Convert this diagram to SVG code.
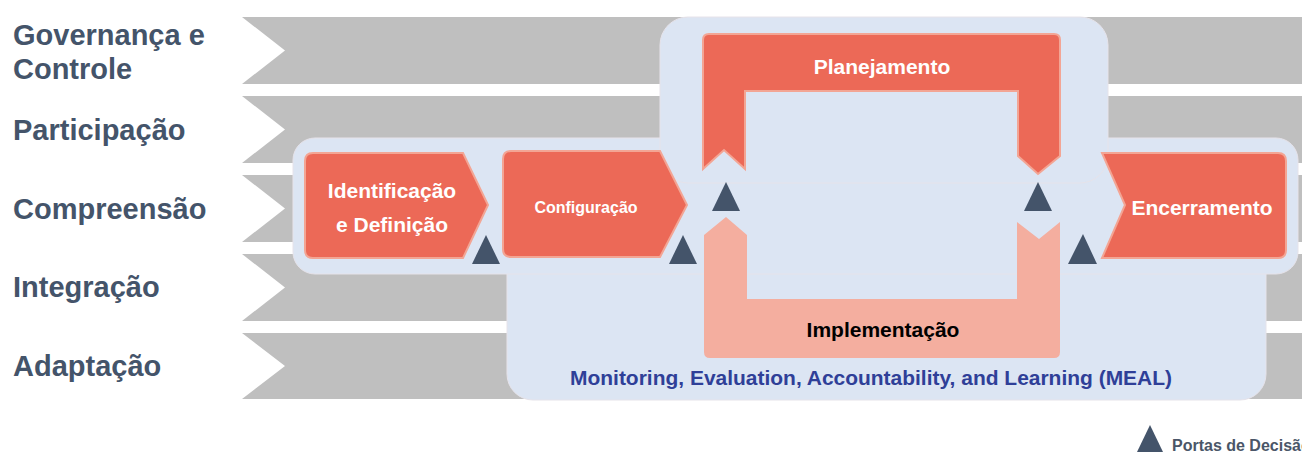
<svg xmlns="http://www.w3.org/2000/svg" width="1302" height="454" viewBox="0 0 1302 454">
<style>
.band{fill:#BFBFBF}
.lbl{font-family:"Liberation Sans",Arial,sans-serif;font-weight:bold;font-size:29px;fill:#44546A}
.panel{fill:#DCE5F3;stroke:#E6E3EA;stroke-width:1}
.phase{fill:#EC6957;stroke:#F3A594;stroke-width:2}
.impl{fill:#F4AE9F}
.wt{font-family:"Liberation Sans",Arial,sans-serif;font-weight:bold;font-size:21px;fill:#FFFFFF;text-anchor:middle}
.gate{fill:#44546A}
</style>
<rect width="1302" height="454" fill="#FFFFFF"/>
<g id="bands">
<path class="band" d="M242,17 H1302 V84 H242 L285,50.5 Z"/>
<path class="band" d="M242,96 H1302 V163 H242 L285,129.5 Z"/>
<path class="band" d="M242,175 H1302 V242 H242 L285,208.5 Z"/>
<path class="band" d="M242,254 H1302 V321 H242 L285,287.5 Z"/>
<path class="band" d="M242,333 H1302 V399 H242 L285,366 Z"/>
</g>
<g id="labels">
<text class="lbl" x="13" y="45">Governança e</text>
<text class="lbl" x="13" y="79">Controle</text>
<text class="lbl" x="13" y="140">Participação</text>
<text class="lbl" x="13" y="219">Compreensão</text>
<text class="lbl" x="13" y="297">Integração</text>
<text class="lbl" x="13" y="376">Adaptação</text>
</g>
<g id="meal-panel">
<rect class="panel" x="507" y="200" width="759" height="200" rx="26"/>
<text x="570" y="385" font-family="Liberation Sans,Arial,sans-serif" font-weight="bold" font-size="20" fill="#2F3F98" textLength="602" lengthAdjust="spacingAndGlyphs">Monitoring, Evaluation, Accountability, and Learning (MEAL)</text>
</g>
<g id="main-panel">
<rect class="panel" x="293" y="138" width="1005" height="136" rx="22"/>
</g>
<g id="plan-panel">
<rect class="panel" x="660" y="17" width="448" height="166" rx="28"/>
</g>
<g id="planejamento">
<path class="phase" d="M709,34 H1054 Q1060,34 1060,40 V156 L1038,174 L1018,156 V91 H745 V169 L724,150 L703,169 V40 Q703,34 709,34 Z"/>
<text class="wt" x="882" y="74">Planejamento</text>
</g>
<g id="implementacao">
<path class="impl" d="M704,235 L726,217 L747,235 V299 H1017 V222 L1039,239 L1060,222 V352 Q1060,358 1054,358 H710 Q704,358 704,352 Z"/>
<text class="wt" x="883" y="337" fill="#000000" style="fill:#000000">Implementação</text>
</g>
<g id="identificacao">
<path class="phase" d="M313,153 H463 L488,205 L463,258 H313 Q305,258 305,250 V161 Q305,153 313,153 Z"/>
<text class="wt" x="392" y="198">Identificação</text>
<text class="wt" x="392" y="232">e Definição</text>
</g>
<g id="configuracao">
<path class="phase" d="M511,151 H660 L687,205 L660,257 H511 Q503,257 503,249 V159 Q503,151 511,151 Z"/>
<text class="wt" x="586" y="213" style="font-size:16px">Configuração</text>
</g>
<g id="encerramento">
<path class="phase" d="M1102,153 H1278 Q1286,153 1286,161 V250 Q1286,258 1278,258 H1102 L1125,205 Z"/>
<text class="wt" x="1202" y="215">Encerramento</text>
</g>
<g id="gates">
<polygon class="gate" points="486,235 472,264 500,264"/>
<polygon class="gate" points="683,235 669,264 697,264"/>
<polygon class="gate" points="726,182 712,211 740,211"/>
<polygon class="gate" points="1038,182 1024,211 1052,211"/>
<polygon class="gate" points="1083,234 1068,264 1097,264"/>
</g>
<g id="legend">
<polygon class="gate" points="1150,425 1137,452 1163,452"/>
<text x="1172" y="451" font-family="Liberation Sans,Arial,sans-serif" font-weight="bold" font-size="16" fill="#4A5668">Portas de Decisão</text>
</g>
</svg>
